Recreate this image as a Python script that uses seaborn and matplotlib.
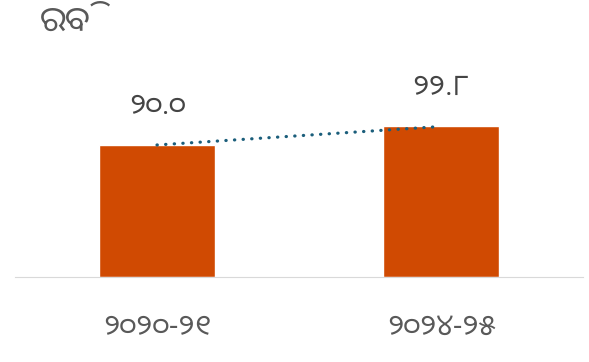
import matplotlib
matplotlib.use("Agg")
import matplotlib.pyplot as plt
import seaborn as sns
import pandas as pd

# data
seasons = ["୨୦୨୦-୨୧", "୨୦୨୪-୨୫"]
values = [20.0, 22.8]
value_labels = ["୨୦.୦", "୨୨.୮"]
title = "ରବି"

sns.set_style("white")
plt.rcParams["font.family"] = ["Noto Sans Oriya", "Noto Sans", "DejaVu Sans"]

df = pd.DataFrame({"season": seasons, "value": values})

fig = plt.figure(figsize=(5.89, 3.62), dpi=100)
ax = fig.add_axes([15 / 589, 85 / 362, 568 / 589, 237 / 362])

sns.barplot(data=df, x="season", y="value", color="#D04A02", width=0.41,
            saturation=1, ax=ax)

# dotted trend line between bar tops
ax.plot([0, 1], values, linestyle=(0, (0.1, 2.6)), color="#1B5E7B",
        linewidth=2.3, dash_capstyle="round")

for i, (v, lab) in enumerate(zip(values, value_labels)):
    ax.annotate(lab, (i, v), xytext=(0, 28), textcoords="offset points",
                ha="center", va="center", fontsize=21, color="#454545")

ax.set_xlim(-0.5, 1.5)
ax.set_ylim(0, 35.9)
ax.set_xlabel("")
ax.set_ylabel("")
ax.set_yticks([])
ax.tick_params(axis="x", length=0, pad=26, labelsize=21, labelcolor="#595959")
for s in ["top", "right", "left"]:
    ax.spines[s].set_visible(False)
ax.spines["bottom"].set_color("#D9D9D9")

fig.text(40 / 589, 1 - 22 / 362, title, fontsize=25, color="#595959",
         ha="left", va="center")

fig.savefig("out.png", dpi=100)
